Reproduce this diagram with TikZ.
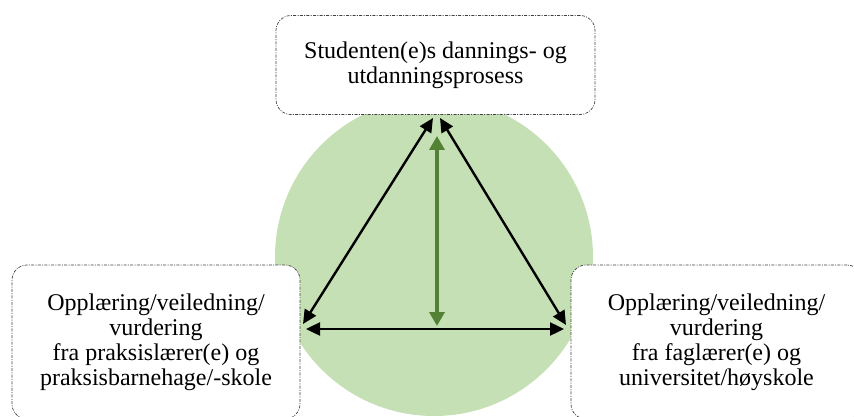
\documentclass[tikz,border=0pt]{standalone}
\usepackage{fontspec}
\setmainfont{Liberation Serif}
\usetikzlibrary{arrows.meta}
\definecolor{circlegreen}{HTML}{C5E0B4}
\definecolor{arrowgreen}{HTML}{548235}
\begin{document}
\begin{tikzpicture}[x=1pt,y=-1pt,
  box/.style={draw=black!75, line width=0.7pt,
    dash pattern=on 3pt off 1.3pt on 1pt off 1.3pt,
    rounded corners=15pt, fill=white, align=center,
    font=\fontsize{24}{25}\selectfont, inner sep=0pt},
  link/.style={line width=2.4pt,
    {Triangle[length=14pt,width=13pt]}-{Triangle[length=14pt,width=13pt]}},
  greenlink/.style={draw=arrowgreen, line width=3.5pt,
    {Triangle[length=14pt,width=15pt]}-{Triangle[length=14pt,width=15pt]}}]
\useasboundingbox (0,0) rectangle (854,417);
\fill[circlegreen] (434,257) circle[radius=159];
\node[box, minimum width=319pt, minimum height=99pt] (top) at (435.5,65)
  {Studenten(e)s dannings- og\\utdanningsprosess};
\node[box, minimum width=288pt, minimum height=154pt] (left) at (156,342)
  {Opplæring/veiledning/\\vurdering\\fra praksislærer(e) og\\praksisbarnehage/-skole};
\node[box, minimum width=291pt, minimum height=154pt] (right) at (716.5,342)
  {Opplæring/veiledning/\\vurdering\\fra faglærer(e) og\\universitet/høyskole};
\coordinate (apexL) at (433,118);
\coordinate (apexR) at (440,118);
\coordinate (vL) at (303,324);
\coordinate (vR) at (566,325);
\coordinate (hL) at (306,329);
\coordinate (hR) at (564,329);
\coordinate (gT) at (437,136);
\coordinate (gB) at (437,326);
\draw[link] (apexL) -- (vL);
\draw[link] (apexR) -- (vR);
\draw[link] (hL) -- (hR);
\draw[greenlink] (gT) -- (gB);
\end{tikzpicture}
\end{document}
